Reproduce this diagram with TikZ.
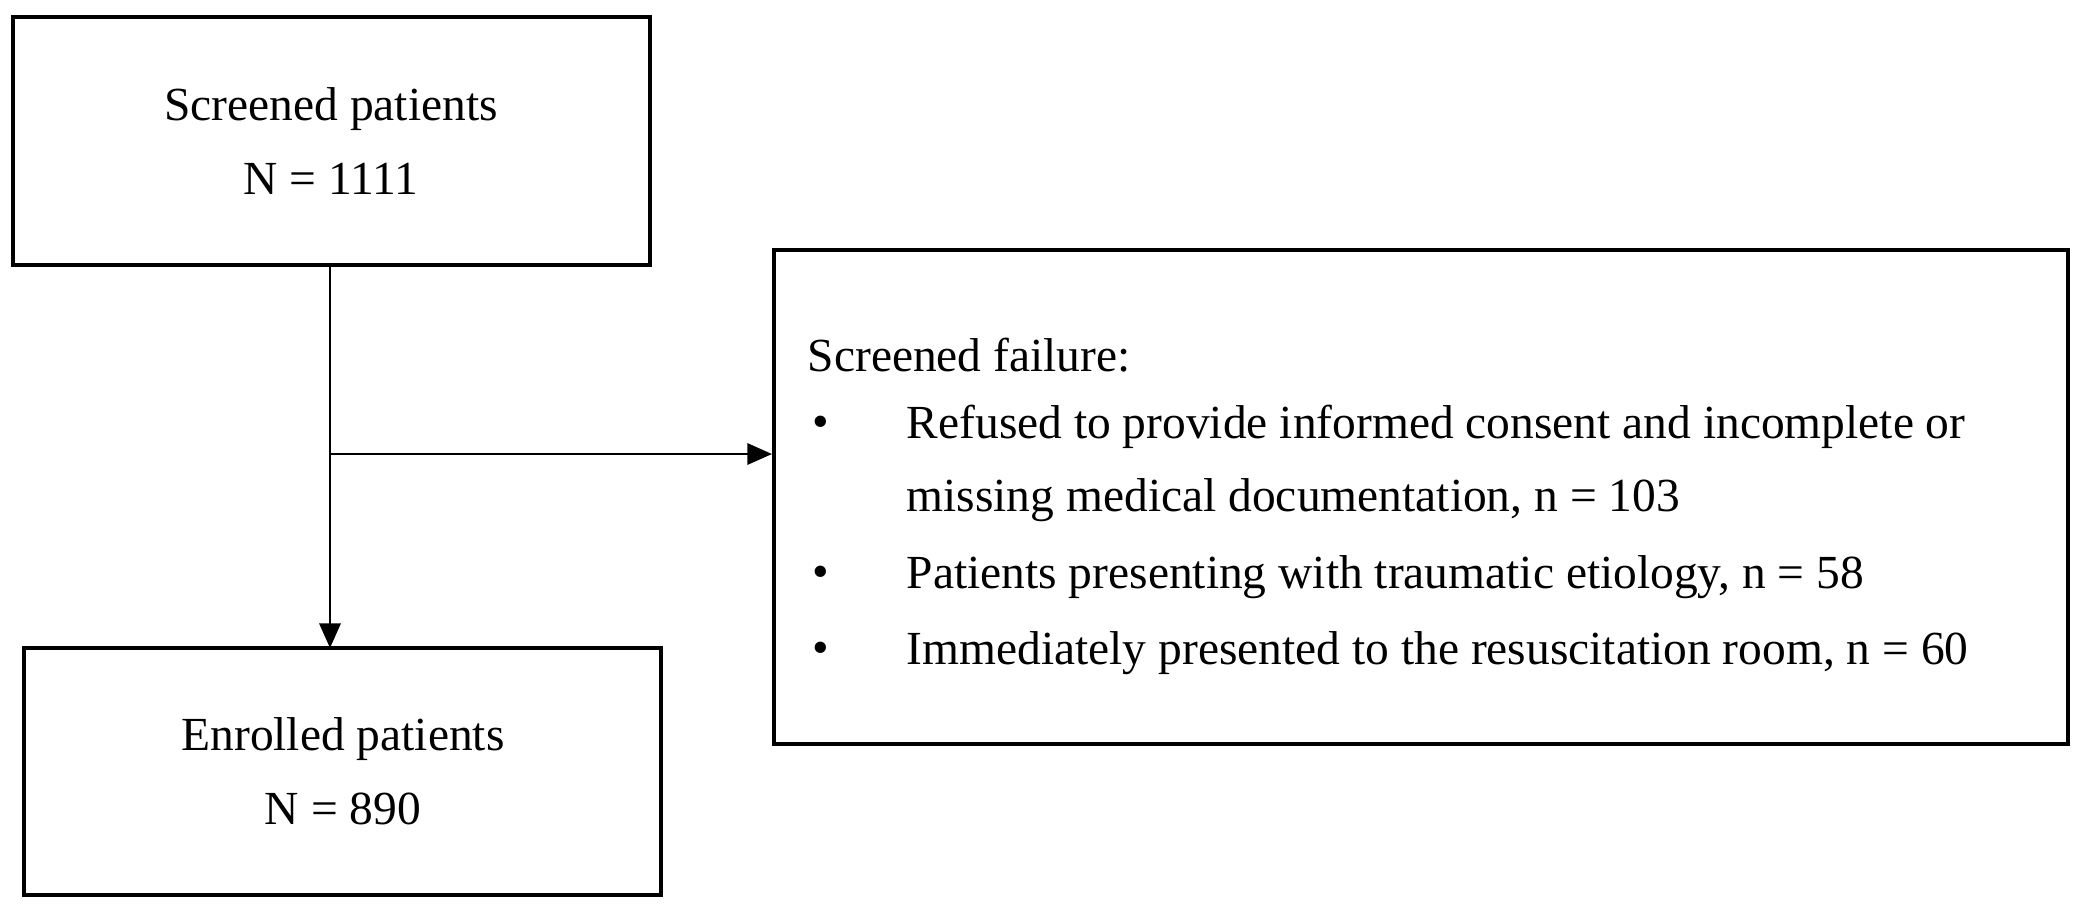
\documentclass[tikz,border=0pt]{standalone}
\usepackage{fontspec}
\setmainfont{Liberation Serif}
\usetikzlibrary{arrows.meta}
\begin{document}
\begin{tikzpicture}[x=0.01cm,y=-0.01cm,
  box/.style={draw,line width=1.1pt,inner sep=0},
  txt/.style={font=\fontsize{13.5pt}{21pt}\selectfont,align=center},
  ltxt/.style={font=\fontsize{13.5pt}{21pt}\selectfont,anchor=west,inner sep=0},
  arr/.style={line width=0.8pt,-{Triangle[length=7pt,width=6pt]}}]
\useasboundingbox (0,0) rectangle (2086,914);
\draw[box] (13,17) rectangle (650,265);
\node[txt] (s) at (331,141) {Screened patients\\N = 1111};
\draw[box] (24,648) rectangle (661,895);
\node[txt] (e) at (343,771) {Enrolled patients\\N = 890};
\draw[box] (774,250) rectangle (2068,744);
\coordinate (top) at (330,265);
\coordinate (bot) at (330,648);
\coordinate (mid) at (330,454);
\coordinate (fr) at (772,454);
\draw[arr] (top) -- (bot);
\draw[arr,line width=0.8pt] (mid) -- (fr);
\node[ltxt] (h) at (807,355) {Screened failure:};
\node[ltxt] (b1) at (812,427) {\textbullet};
\node[ltxt] (l1) at (906,427) {Refused to provide informed consent and incomplete or};
\node[ltxt] (l2) at (906,500) {missing medical documentation, n = 103};
\node[ltxt] (b2) at (812,577) {\textbullet};
\node[ltxt] (l3) at (906,577) {Patients presenting with traumatic etiology, n = 58};
\node[ltxt] (b3) at (812,653) {\textbullet};
\node[ltxt] (l4) at (906,653) {Immediately presented to the resuscitation room, n = 60};
\end{tikzpicture}
\end{document}
